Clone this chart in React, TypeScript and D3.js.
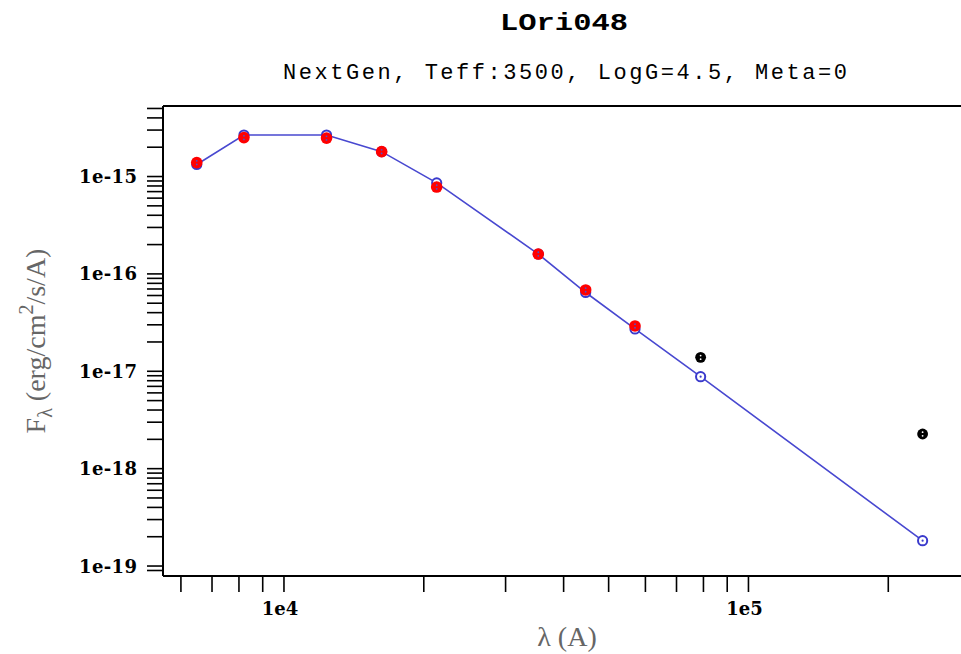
import React from "react";
import * as d3 from "d3";

// ---- data ----
const wavelengths = [6490, 8200, 12350, 16230, 21320, 35280, 44620, 56980, 78890, 237100];
const modelFlux = [1.33e-15, 2.67e-15, 2.67e-15, 1.8e-15, 8.6e-16, 1.6e-16, 6.44e-17, 2.72e-17, 8.8e-18, 1.82e-19];
const fitWave = [6490, 8200, 12350, 16230, 21320, 35280, 44620, 56980];
const fitFlux = [1.39e-15, 2.51e-15, 2.48e-15, 1.8e-15, 7.8e-16, 1.6e-16, 6.84e-17, 2.92e-17];
const extraWave = [78890, 237100];
const extraFlux = [1.39e-17, 2.27e-18];
const xTickLabels = [{ v: 1e4, t: "1e4" }, { v: 1e5, t: "1e5" }];
const yTickLabels = [
  { v: 1e-15, t: "1e-15" },
  { v: 1e-16, t: "1e-16" },
  { v: 1e-17, t: "1e-17" },
  { v: 1e-18, t: "1e-18" },
  { v: 1e-19, t: "1e-19" },
];
const title = "LOri048";
const subtitle = "NextGen, Teff:3500, LogG=4.5, Meta=0";

const W = 961;
const H = 654;
const left = 163;
const right = 961;
const top = 106;
const bottom = 576;

export default function App() {
  const x = d3.scaleLog().domain([5490, 286800]).range([left, right]);
  const y = d3.scaleLog().domain([5.3e-15, 7.9e-20]).range([top, bottom]);

  const xTicks: number[] = [];
  for (let e = 3; e <= 5; e++)
    for (let k = 1; k <= 9; k++) {
      const v = k * Math.pow(10, e);
      const px = x(v);
      if (px >= left + 3 && px <= right) xTicks.push(v);
    }
  const yTicks: number[] = [];
  for (let e = -20; e <= -15; e++)
    for (let k = 1; k <= 9; k++) {
      const v = k * Math.pow(10, e);
      const py = y(v);
      if (py >= top - 0.5 && py <= bottom - 3) yTicks.push(v);
    }

  const line = d3
    .line<number>()
    .x((_, i) => x(wavelengths[i]))
    .y((d) => y(d));

  const tickFont = "'DejaVu Serif', serif";
  const titleFont = "'Liberation Mono', 'DejaVu Sans Mono', monospace";
  const axisTitleFont = "'Liberation Serif', 'Times New Roman', serif";

  return (
    <div>
      <style>{`body{margin:0}`}</style>
      <svg width={W} height={H} style={{ display: "block", background: "#fff" }}>
        <text
          x={564}
          y={30}
          textAnchor="middle"
          fontFamily={titleFont}
          fontWeight="bold"
          fontSize={24}
          textLength={128}
          lengthAdjust="spacingAndGlyphs"
          fill="#000"
        >
          {title}
        </text>
        <text
          x={565}
          y={79}
          textAnchor="middle"
          fontFamily={titleFont}
          fontSize={22}
          textLength={564}
          lengthAdjust="spacing"
          fill="#000"
        >
          {subtitle}
        </text>

        <line x1={left} x2={left} y1={top} y2={bottom} stroke="#000" strokeWidth={2} />
        <line x1={left} x2={right} y1={top} y2={top} stroke="#000" strokeWidth={2} />
        <line x1={left} x2={right} y1={bottom} y2={bottom} stroke="#000" strokeWidth={2} />

        {yTicks.map((v, i) => (
          <line key={"yt" + i} x1={left - 16} x2={left} y1={y(v)} y2={y(v)} stroke="#000" strokeWidth={1.6} />
        ))}
        {yTickLabels.map((d) => (
          <text
            key={d.t}
            x={137}
            y={y(d.v)}
            dy="0.36em"
            textAnchor="end"
            fontFamily={tickFont}
            fontWeight={600}
            fontSize={18}
            textLength={58}
            lengthAdjust="spacing"
            fill="#000"
          >
            {d.t}
          </text>
        ))}

        {xTicks.map((v, i) => (
          <line key={"xt" + i} x1={x(v)} x2={x(v)} y1={bottom} y2={bottom + 16} stroke="#000" strokeWidth={1.6} />
        ))}
        {xTickLabels.map((d) => (
          <text
            key={d.t}
            x={x(d.v) - 4}
            y={615}
            textAnchor="middle"
            fontFamily={tickFont}
            fontWeight={600}
            fontSize={18}
            fill="#000"
          >
            {d.t}
          </text>
        ))}

        <text x={567} y={646} textAnchor="middle" fontFamily={axisTitleFont} fontSize={28} fill="#666">
          λ (A)
        </text>
        <g transform="translate(45,341) rotate(-90)">
          <text textAnchor="middle" fontFamily={axisTitleFont} fontSize={28} fill="#666">
            <tspan>F</tspan>
            <tspan fontSize={20} dy={7}>λ</tspan>
            <tspan dy={-7}> (erg/cm</tspan>
            <tspan fontSize={20} dy={-12}>2</tspan>
            <tspan dy={12}>/s/A)</tspan>
          </text>
        </g>

        <path d={line(modelFlux) || ""} fill="none" stroke="#4848d0" strokeWidth={1.6} />

        {modelFlux.map((f, i) => (
          <g key={"m" + i} transform={`translate(${x(wavelengths[i])},${y(f)})`}>
            <circle r={4.6} fill="#fff" stroke="#3a3acc" strokeWidth={2} />
            <circle r={1.1} fill="#3a3acc" />
          </g>
        ))}

        {fitFlux.map((f, i) => (
          <g key={"o" + i} transform={`translate(${x(fitWave[i])},${y(f)})`}>
            <circle r={5.8} fill="#ff0000" />
            <circle cy={-1.8} r={0.9} fill="#5050c8" />
            <circle cy={1.8} r={0.9} fill="#5050c8" />
          </g>
        ))}

        {extraFlux.map((f, i) => (
          <g key={"e" + i} transform={`translate(${x(extraWave[i])},${y(f)})`}>
            <circle r={5.4} fill="#000" />
            <circle cy={-1.8} r={0.9} fill="#fff" />
            <circle cy={1.8} r={0.9} fill="#fff" />
          </g>
        ))}
      </svg>
    </div>
  );
}
